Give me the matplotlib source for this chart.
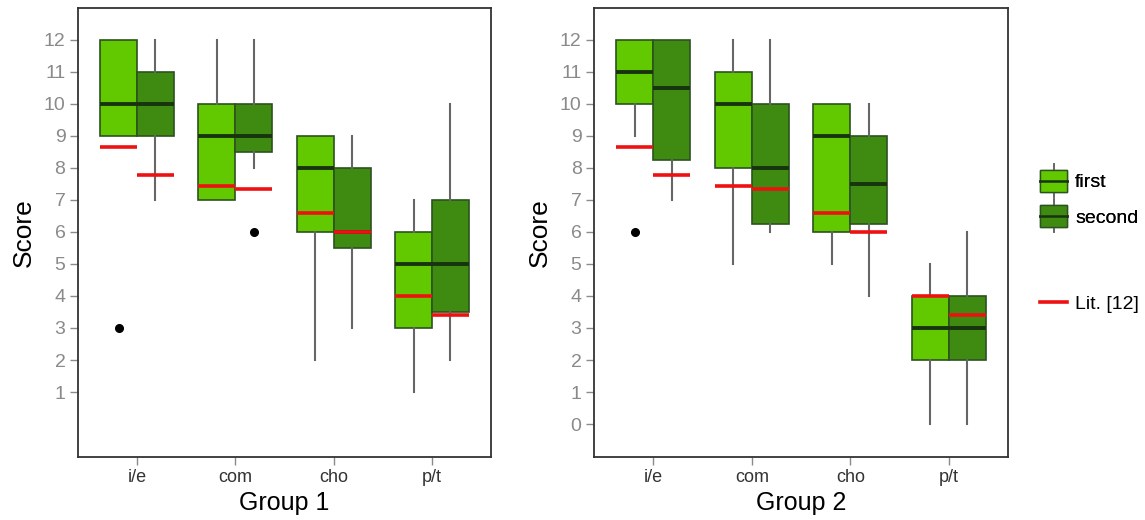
import numpy as np
import matplotlib
matplotlib.use("Agg")
import matplotlib.pyplot as plt
from matplotlib.patches import Rectangle
from matplotlib.lines import Line2D
from matplotlib.legend_handler import HandlerBase

plt.rcParams['font.family'] = ['Liberation Sans', 'DejaVu Sans']

categories = ['i/e', 'com', 'cho', 'p/t']
series = ['first', 'second']

# box stats per group: [whislo, q1, med, q3, whishi] for each category, first / second
g1_first = [[9, 9, 10, 12, 12], [7, 7, 9, 10, 12], [2, 6, 8, 9, 9], [1, 3, 5, 6, 7]]
g1_second = [[7, 9, 10, 11, 12], [8, 8.5, 9, 10, 12], [3, 5.5, 6, 8, 9], [2, 3.5, 5, 7, 10]]
g1_first_out = [[3], [], [], []]
g1_second_out = [[], [6], [], []]

g2_first = [[9, 10, 11, 12, 12], [5, 8, 10, 11, 12], [5, 6, 9, 10, 10], [0, 2, 3, 4, 5]]
g2_second = [[7, 8.25, 10.5, 12, 12], [6, 6.25, 8, 10, 12], [4, 6.25, 7.5, 9, 10], [0, 2, 3, 4, 6]]
g2_first_out = [[6], [], [], []]
g2_second_out = [[], [], [], []]

# literature reference values (same for both groups)
lit_first = [8.65, 7.45, 6.6, 4.0]
lit_second = [7.78, 7.35, 6.0, 3.4]

col_first = '#62c800'
col_second = '#3f8a10'
col_edge = '#2c5220'
col_med = '#18340f'
col_whisk = '#666666'
col_red = '#ee1111'

W = 0.375


def stats(rows, outs):
    res = []
    for r, o in zip(rows, outs):
        res.append(dict(whislo=r[0], q1=r[1], med=r[2], q3=r[3], whishi=r[4], fliers=o))
    return res


class BoxKey(HandlerBase):
    # legend key: whisker, box, median line
    def __init__(self, face):
        super().__init__()
        self.face = face

    def create_artists(self, legend, orig, xd, yd, w, h, fs, trans):
        cx = xd + w / 2
        cy = yd + h / 2
        wl = Line2D([cx, cx], [cy - 1.2 * h, cy + 1.2 * h], color=col_whisk, lw=1.2, transform=trans)
        r = Rectangle((xd, cy - 0.8 * h), w, 1.6 * h, facecolor=self.face, edgecolor=col_edge,
                      lw=1, transform=trans)
        md = Line2D([xd, xd + w], [cy, cy], color=col_med, lw=1.8, transform=trans)
        return [wl, r, md]


def draw_panel(ax, first, second, f_out, s_out, yticks, title):
    x = np.arange(1, len(categories) + 1)
    for st, pos, col in [(stats(first, f_out), x - W / 2, col_first),
                         (stats(second, s_out), x + W / 2, col_second)]:
        ax.bxp(st, positions=pos, widths=W, patch_artist=True, showcaps=False,
               boxprops=dict(facecolor=col, edgecolor=col_edge, linewidth=1.2),
               medianprops=dict(color=col_med, linewidth=2.8),
               whiskerprops=dict(color=col_whisk, linewidth=1.5),
               flierprops=dict(marker='o', markerfacecolor='black', markeredgecolor='black',
                               markersize=5.5))
    ax.hlines(lit_first, x - W, x, color=col_red, linewidth=2.6, zorder=5)
    ax.hlines(lit_second, x, x + W, color=col_red, linewidth=2.6, zorder=5)

    ax.set_xlim(0.4, 4.6)
    ax.set_ylim(-1.03, 13.0)
    ax.set_xticks(x)
    ax.set_xticklabels(categories, fontsize=13, color='#333333')
    ax.set_yticks(yticks)
    ax.set_yticklabels([str(t) for t in yticks], fontsize=14, color='#8a8a8a')
    ax.tick_params(axis='both', length=6, width=1, color='#8a8a8a', pad=3)
    for sp in ax.spines.values():
        sp.set_color('#333333')
        sp.set_linewidth(1.3)
    ax.set_ylabel('Score', fontsize=19, labelpad=6)
    ax.set_xlabel(title, fontsize=18, labelpad=3)


fig = plt.figure(figsize=(11.45, 5.2), dpi=100)
ax1 = fig.add_axes([0.0681, 0.1212, 0.3607, 0.8635])
ax2 = fig.add_axes([0.5188, 0.1212, 0.3616, 0.8635])

draw_panel(ax1, g1_first, g1_second, g1_first_out, g1_second_out, list(range(1, 13)), 'Group 1')
draw_panel(ax2, g2_first, g2_second, g2_first_out, g2_second_out, list(range(0, 13)), 'Group 2')

h1, h2 = object(), object()
leg1 = fig.legend([h1, h2], series, loc='center left',
                  bbox_to_anchor=(0.893, 0.615), frameon=False, fontsize=14,
                  handlelength=1.4, handletextpad=0.4, labelspacing=0.9,
                  handler_map={h1: BoxKey(col_first), h2: BoxKey(col_second)})
fig.add_artist(leg1)
fig.legend([Line2D([], [], color=col_red, lw=2.6)], ['Lit. [12]'], loc='center left',
           bbox_to_anchor=(0.893, 0.415), frameon=False, fontsize=14,
           handlelength=1.4, handletextpad=0.4)

fig.savefig('out.png', dpi=100)
